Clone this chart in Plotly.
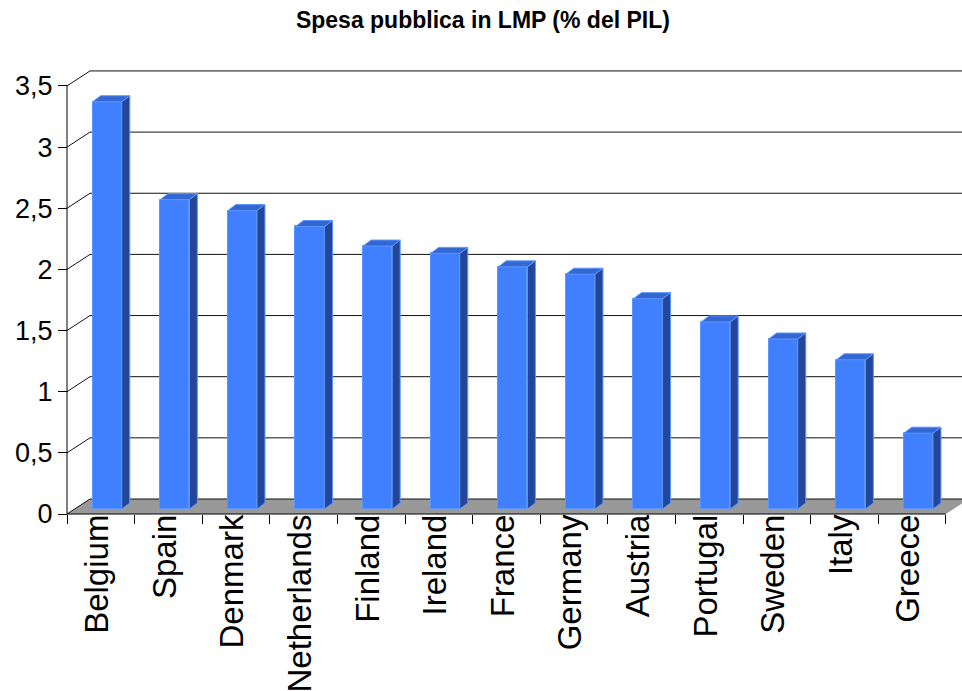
import plotly.graph_objects as go

# ---- data ----
countries = ["Belgium", "Spain", "Denmark", "Netherlands", "Finland", "Ireland",
             "France", "Germany", "Austria", "Portugal", "Sweden", "Italy", "Greece"]
spesa = [3.33, 2.53, 2.44, 2.31, 2.15, 2.09, 1.98, 1.92, 1.72, 1.53, 1.39, 1.22, 0.62]
y_ticks = [0, 0.5, 1, 1.5, 2, 2.5, 3, 3.5]
title_text = "Spesa pubblica in LMP (% del PIL)"

# ---- geometry (in axis units) ----
W, H = 962, 691
ML, MR, MT, MB = 64, 0, 59, 175
X0_PX, Y0_PX = 67, 514          # pixel position of data origin (front-left corner)
UX, UY = 67.6, 122.3            # pixels per category / per value unit
plot_w = W - ML - MR
plot_h = H - MT - MB
x_lo = -(X0_PX - ML) / UX
x_hi = x_lo + plot_w / UX
y_lo = -((H - MB) - Y0_PX) / UY
y_hi = y_lo + plot_h / UY

DX, DY = 23 / UX, 15 / UY        # depth of the back wall
n = len(countries)
bar_l, bar_w = 0.38, 0.43        # front face position inside slot
bdx, bdy = 8 / UX, 6 / UY        # bar depth
base = 5 / UY                    # bar front face sits slightly behind the floor edge

FRONT = "#4080ff"
SIDE = "#23469a"
TOP = "#3467d2"
EDGE = "#5a96ff"

fig = go.Figure()

# front faces (bars)
fig.add_trace(go.Bar(
    x=[i + bar_l + bar_w / 2 for i in range(n)], y=spesa, base=base, width=bar_w,
    marker=dict(color=FRONT, line=dict(color=EDGE, width=1)),
    hoverinfo="skip", showlegend=False,
))

# side and top faces
sx, sy = [], []
tx, ty = [], []
for i, v in enumerate(spesa):
    xl = i + bar_l
    xr = xl + bar_w
    top = base + v
    sx += [xr, xr + bdx, xr + bdx, xr, xr, None]
    sy += [base, base + bdy, top + bdy, top, base, None]
    tx += [xl, xr, xr + bdx, xl + bdx, xl, None]
    ty += [top, top, top + bdy, top + bdy, top, None]
fig.add_trace(go.Scatter(x=sx, y=sy, mode="lines", fill="toself", fillcolor=SIDE,
                         line=dict(color=EDGE, width=1), hoverinfo="skip", showlegend=False))
fig.add_trace(go.Scatter(x=tx, y=ty, mode="lines", fill="toself", fillcolor=TOP,
                         line=dict(color=EDGE, width=1), hoverinfo="skip", showlegend=False))

shapes = []
# floor
shapes.append(dict(type="path", xref="x", yref="y", layer="below",
                   path=f"M 0 0 L {n} 0 L {n + DX} {DY} L {DX} {DY} Z",
                   fillcolor="#999999", line=dict(width=0)))
# gridlines on the back wall with diagonal connectors
for v in y_ticks:
    shapes.append(dict(type="path", xref="x", yref="y", layer="below",
                       path=f"M 0 {v} L {DX} {v + DY} L {n + DX + 1} {v + DY}",
                       line=dict(color="#111111", width=1)))
# front axis lines
shapes.append(dict(type="line", xref="x", yref="y", layer="above",
                   x0=0, y0=0, x1=0, y1=y_ticks[-1], line=dict(color="black", width=1)))
shapes.append(dict(type="line", xref="x", yref="y", layer="above",
                   x0=0, y0=0, x1=n, y1=0, line=dict(color="black", width=1)))

fig.update_layout(
    width=W, height=H,
    margin=dict(l=ML, r=MR, t=MT, b=MB),
    paper_bgcolor="white", plot_bgcolor="white",
    separators=",.",
    bargap=0,
    shapes=shapes,
    title=dict(text=title_text, x=0.502, xanchor="center", y=1 - 20 / H, yanchor="middle",
               yref="container",
               font=dict(family="Liberation Sans, Arial, sans-serif", size=23, color="black",
                         weight="bold")),
    xaxis=dict(
        range=[x_lo, x_hi], showgrid=False, zeroline=False, showline=False,
        tickmode="array", tickvals=[i + 0.45 for i in range(n)], ticktext=countries,
        ticks="", tickangle=-90, automargin=False, ticklabelstandoff=-7,
        tickfont=dict(family="Liberation Sans, Arial, sans-serif", size=33, color="black"),
        anchor="free", position=((H - MB) - Y0_PX) / plot_h,
        minor=dict(tickmode="array", tickvals=list(range(n + 1)), ticks="outside",
                   ticklen=9, tickwidth=1, tickcolor="black", showgrid=False),
        fixedrange=True,
    ),
    yaxis=dict(
        range=[y_lo, y_hi], showgrid=False, zeroline=False, showline=False,
        tickmode="array", tickvals=y_ticks, ticks="outside", ticklen=9, tickwidth=1,
        tickcolor="black", automargin=False,
        tickfont=dict(family="Liberation Sans, Arial, sans-serif", size=27, color="black"),
        anchor="free", position=(X0_PX - ML) / plot_w,
        fixedrange=True,
    ),
)

fig.write_html("out.html", config={"displayModeBar": False},
               post_script="document.body.style.margin='0';document.body.style.overflow='hidden';")
